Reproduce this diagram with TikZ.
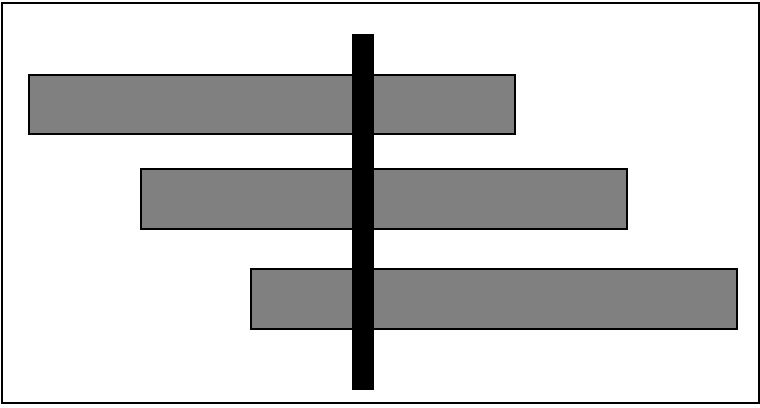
\documentclass[tikz,border=0pt]{standalone}
\begin{document}
\begin{tikzpicture}[x=1pt,y=-1pt,
  barbox/.style={draw=black,line width=2pt,fill={rgb,255:red,128;green,128;blue,128}},
  pole/.style={fill=black,draw=none}]
\useasboundingbox (0,0) rectangle (760,407);
\draw[line width=2pt] (2,2.5) rectangle (758.5,403);
\path[barbox] (29,75) rectangle (515,134) node[midway] (b1) {};
\path[barbox] (141,169) rectangle (627,229) node[midway] (b2) {};
\path[barbox] (251,269) rectangle (737,329) node[midway] (b3) {};
\path[pole] (352,34) rectangle (374,390) node[midway] (p) {};
\end{tikzpicture}
\end{document}
